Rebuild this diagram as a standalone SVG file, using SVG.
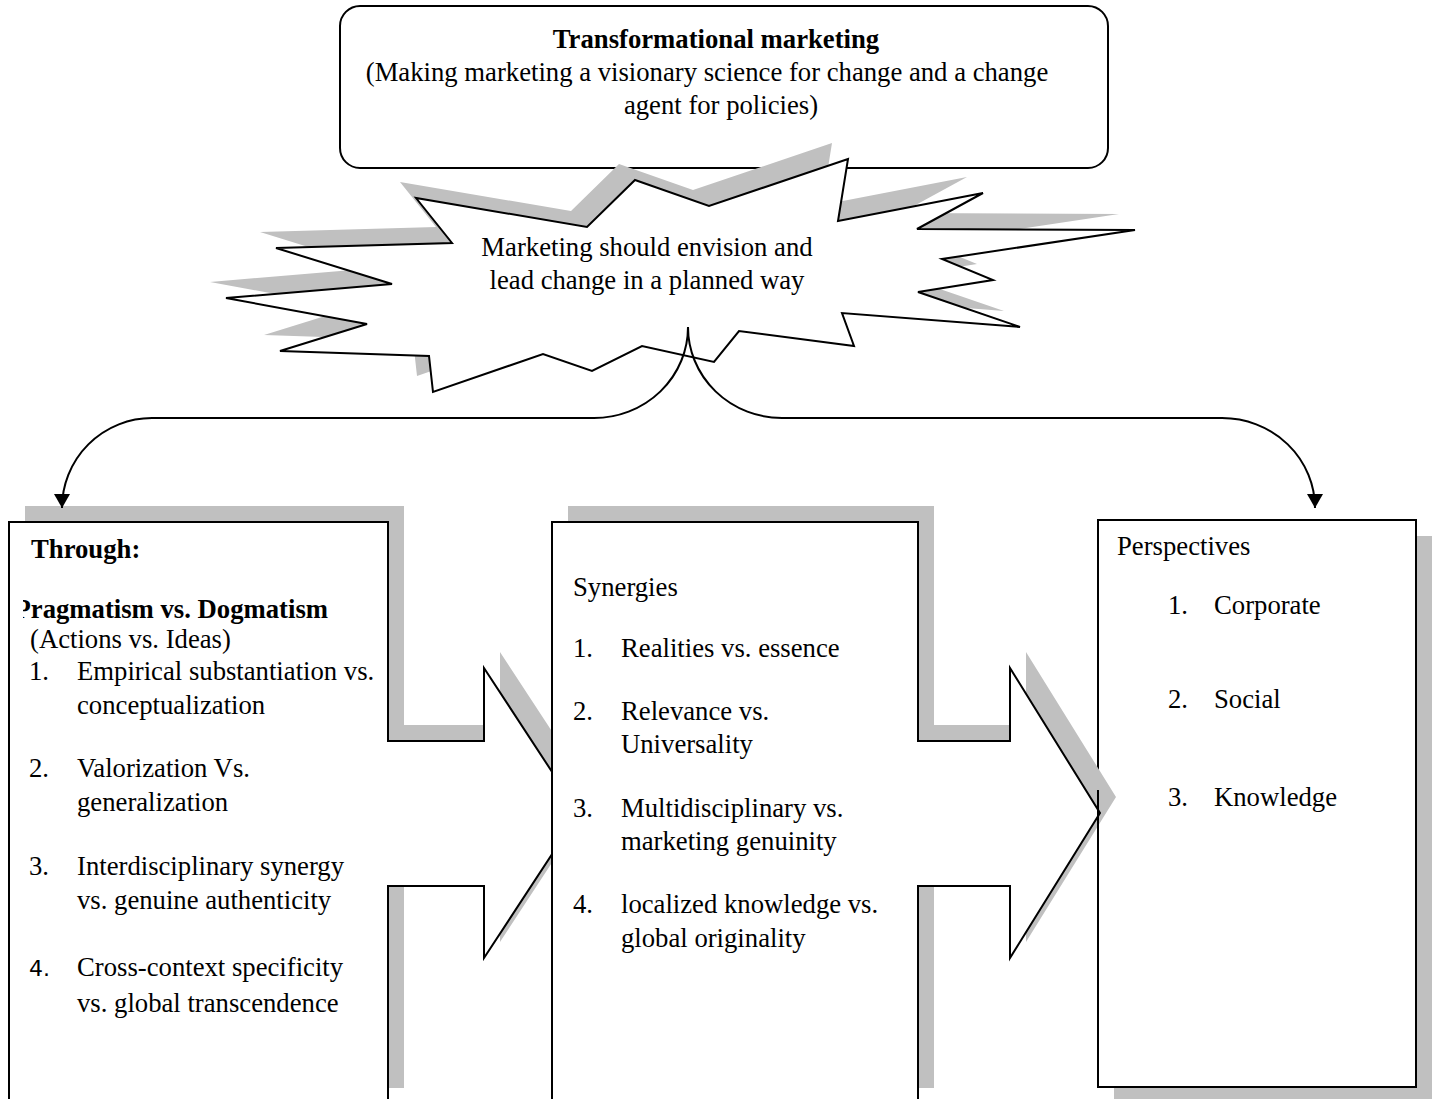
<svg xmlns="http://www.w3.org/2000/svg" width="1433" height="1099" viewBox="0 0 1433 1099">
<style>
  .t { font-family: "Liberation Serif", "Times New Roman", serif; font-size: 26.7px; fill: #000; }
  .b { font-weight: bold; }
  .c { text-anchor: middle; }
  .shape { fill: #fff; stroke: #000; stroke-width: 2; stroke-linejoin: miter; }
  .edge { fill: none; stroke: #000; stroke-width: 2; }
  .shadow { fill: #c0c0c0; stroke: none; }
  .conn { fill: none; stroke: #000; stroke-width: 2; }
  .sans { font-family: "DejaVu Sans", "Liberation Sans", sans-serif; font-size: 22px; }
</style>
<defs>
  <marker id="arr" markerUnits="userSpaceOnUse" markerWidth="16" markerHeight="16" viewBox="0 0 14 16" refX="14" refY="8" orient="auto">
    <path d="M0,0 L14,8 L0,16 z" fill="#000"/>
  </marker>
  <clipPath id="clipL"><rect x="23" y="520" width="380" height="600"/></clipPath>
  <polygon id="star" points="635,180 709,206 848,159 838,221 983,193 917,229 1135,230 942,259 993,280 918,292 1020,327 842,313 854,346 739,331 714,362 642,346 592,371 543,354 433,392 429,356 280,351 367,324 226,298 392,284 276,248 452,243 416,198 587,227"/>
  <polygon id="leftShape" points="9,522 388,522 388,741 484,741 484,668 579,813 484,958 484,886 388,886 388,1104 9,1104"/>
  <polygon id="midShape" points="552,522 918,522 918,741 1010,741 1010,668 1100,813 1010,958 1010,886 918,886 918,1104 552,1104"/>
</defs>
<rect width="1433" height="1099" fill="#fff"/>

<g id="top-box">
  <rect class="shape" x="340" y="6" width="768" height="162" rx="20" ry="20"/>
  <text class="t b c" x="716" y="48">Transformational marketing</text>
  <text class="t c" x="707" y="81">(Making marketing a visionary science for change and a change</text>
  <text class="t c" x="721" y="114">agent for policies)</text>
</g>

<g id="starburst">
  <use href="#star" class="shadow" transform="translate(-16,-16)"/>
  <use href="#star" class="shape"/>
  <text class="t c" x="647" y="256">Marketing should envision and</text>
  <text class="t c" x="647" y="289">lead change in a planned way</text>
</g>

<g id="perspectives">
  <rect class="shadow" x="1114" y="536" width="318" height="567"/>
  <rect class="shape" x="1098" y="520" width="318" height="567"/>
  <text class="t" x="1117" y="555">Perspectives</text>
  <text class="t" x="1168" y="614">1.</text><text class="t" x="1214" y="614">Corporate</text>
  <text class="t" x="1168" y="708">2.</text><text class="t" x="1214" y="708">Social</text>
  <text class="t" x="1168" y="806">3.</text><text class="t" x="1214" y="806">Knowledge</text>
</g>

<g id="through">
  <use href="#leftShape" class="shadow" transform="translate(16,-16)"/>
  <use href="#leftShape" class="shape"/>
  <text class="t b" x="31" y="558">Through:</text>
  <text class="t b" x="14.5" y="618" clip-path="url(#clipL)">Pragmatism vs. Dogmatism</text>
  <text class="t" x="30" y="648">(Actions vs. Ideas)</text>
  <text class="t" x="29" y="680">1.</text><text class="t" x="77" y="680">Empirical substantiation vs.</text>
  <text class="t" x="77" y="714">conceptualization</text>
  <text class="t" x="29" y="777">2.</text><text class="t" x="77" y="777">Valorization Vs.</text>
  <text class="t" x="77" y="811">generalization</text>
  <text class="t" x="29" y="875">3.</text><text class="t" x="77" y="875">Interdisciplinary synergy</text>
  <text class="t" x="77" y="909">vs. genuine authenticity</text>
  <text class="sans" x="29" y="976">4.</text><text class="t" x="77" y="976">Cross-context specificity</text>
  <text class="t" x="77" y="1012">vs. global transcendence</text>
</g>

<g id="synergies">
  <use href="#midShape" class="shadow" transform="translate(16,-16)"/>
  <use href="#midShape" class="shape"/>
  <line class="edge" x1="1098" y1="790" x2="1098" y2="836"/>
  <text class="t" x="573" y="596">Synergies</text>
  <text class="t" x="573" y="657">1.</text><text class="t" x="621" y="657">Realities vs. essence</text>
  <text class="t" x="573" y="720">2.</text><text class="t" x="621" y="720">Relevance vs.</text>
  <text class="t" x="621" y="753">Universality</text>
  <text class="t" x="573" y="817">3.</text><text class="t" x="621" y="817">Multidisciplinary vs.</text>
  <text class="t" x="621" y="850">marketing genuinity</text>
  <text class="t" x="573" y="913">4.</text><text class="t" x="621" y="913">localized knowledge vs.</text>
  <text class="t" x="621" y="947">global originality</text>
</g>

<g id="connectors">
  <path class="conn" d="M688,327 A94,91 0 0 1 594,418 L152,418 A90,90 0 0 0 62,508" marker-end="url(#arr)"/>
  <path class="conn" d="M688,327 A94,91 0 0 0 782,418 L1222,418 A93,90 0 0 1 1315,508" marker-end="url(#arr)"/>
</g>
</svg>
